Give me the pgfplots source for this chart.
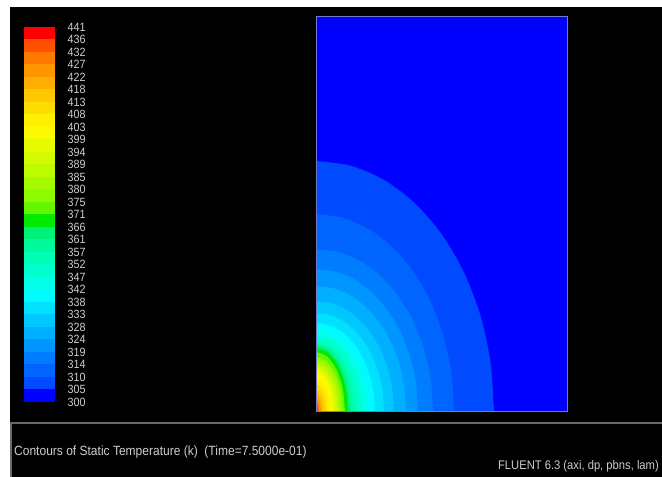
\documentclass[border=0pt]{standalone}
\usepackage{pgfplots}
\pgfplotsset{compat=1.18}
\usepackage{fontspec}
\setmainfont{Liberation Sans}
\newfontfamily\narrow[FakeStretch=0.9]{Liberation Sans}
\definecolor{c0}{RGB}{0,0,255}
\definecolor{c1}{RGB}{0,75,255}
\definecolor{c2}{RGB}{0,100,255}
\definecolor{c3}{RGB}{0,125,255}
\definecolor{c4}{RGB}{0,150,255}
\definecolor{c5}{RGB}{0,175,255}
\definecolor{c6}{RGB}{0,200,255}
\definecolor{c7}{RGB}{0,225,255}
\definecolor{c8}{RGB}{0,250,255}
\definecolor{c9}{RGB}{0,255,230}
\definecolor{c10}{RGB}{0,255,205}
\definecolor{c11}{RGB}{0,255,180}
\definecolor{c12}{RGB}{0,250,155}
\definecolor{c13}{RGB}{0,240,120}
\definecolor{c14}{RGB}{0,235,0}
\definecolor{c15}{RGB}{100,245,0}
\definecolor{c16}{RGB}{140,250,0}
\definecolor{c17}{RGB}{165,250,0}
\definecolor{c18}{RGB}{190,250,0}
\definecolor{c19}{RGB}{210,250,0}
\definecolor{c20}{RGB}{230,250,0}
\definecolor{c21}{RGB}{250,250,0}
\definecolor{c22}{RGB}{255,240,0}
\definecolor{c23}{RGB}{255,220,0}
\definecolor{c24}{RGB}{255,200,0}
\definecolor{c25}{RGB}{255,175,0}
\definecolor{c26}{RGB}{255,150,0}
\definecolor{c27}{RGB}{255,120,0}
\definecolor{c28}{RGB}{255,80,0}
\definecolor{c29}{RGB}{255,0,0}
\definecolor{lbl}{RGB}{205,205,205}
\definecolor{frm}{RGB}{105,105,105}
\definecolor{dfrm}{RGB}{120,120,200}
\begin{document}
\begin{tikzpicture}[x=1bp,y=1bp]
\useasboundingbox (0,0) rectangle (662,477);
\fill[white] (0,0) rectangle (662,477);
\fill[black] (10,0) rectangle (662,470);
\draw[frm, line width=2bp] (662,54) -- (11,54) -- (11,0);
\node[anchor=west, text=lbl, inner sep=0pt, font=\narrow\fontsize{13.4}{15}\selectfont] at (14,25) {Contours of Static Temperature (k)\ \ (Time=7.5000e-01)};
\node[anchor=east, text=lbl, inner sep=0pt, font=\narrow\fontsize{12.5}{14}\selectfont] at (659,11) {FLUENT 6.3 (axi, dp, pbns, lam)};

% colour bar
\begin{axis}[at={(24bp,75bp)}, anchor=south west, scale only axis,
  width=31bp, height=375bp, xmin=0, xmax=1, ymin=0, ymax=30,
  axis line style={draw=none}, xtick=\empty,
  ytick={0,1,2,3,4,5,6,7,8,9,10,11,12,13,14,15,16,17,18,19,20,21,22,23,24,25,26,27,28,29,30},
  yticklabels={300,305,310,314,319,324,328,333,338,342,347,352,357,361,366,371,375,380,385,389,394,399,403,408,413,418,422,427,432,436,441},
  yticklabel pos=right, major tick length=0pt,
  yticklabel style={font=\narrow\fontsize{12}{12}\selectfont, text=lbl, anchor=west, inner sep=0pt, xshift=12.5bp}]
\addplot[fill=c0,draw=none] coordinates {(0,0) (1,0) (1,1) (0,1)} -- cycle;
\addplot[fill=c1,draw=none] coordinates {(0,1) (1,1) (1,2) (0,2)} -- cycle;
\addplot[fill=c2,draw=none] coordinates {(0,2) (1,2) (1,3) (0,3)} -- cycle;
\addplot[fill=c3,draw=none] coordinates {(0,3) (1,3) (1,4) (0,4)} -- cycle;
\addplot[fill=c4,draw=none] coordinates {(0,4) (1,4) (1,5) (0,5)} -- cycle;
\addplot[fill=c5,draw=none] coordinates {(0,5) (1,5) (1,6) (0,6)} -- cycle;
\addplot[fill=c6,draw=none] coordinates {(0,6) (1,6) (1,7) (0,7)} -- cycle;
\addplot[fill=c7,draw=none] coordinates {(0,7) (1,7) (1,8) (0,8)} -- cycle;
\addplot[fill=c8,draw=none] coordinates {(0,8) (1,8) (1,9) (0,9)} -- cycle;
\addplot[fill=c9,draw=none] coordinates {(0,9) (1,9) (1,10) (0,10)} -- cycle;
\addplot[fill=c10,draw=none] coordinates {(0,10) (1,10) (1,11) (0,11)} -- cycle;
\addplot[fill=c11,draw=none] coordinates {(0,11) (1,11) (1,12) (0,12)} -- cycle;
\addplot[fill=c12,draw=none] coordinates {(0,12) (1,12) (1,13) (0,13)} -- cycle;
\addplot[fill=c13,draw=none] coordinates {(0,13) (1,13) (1,14) (0,14)} -- cycle;
\addplot[fill=c14,draw=none] coordinates {(0,14) (1,14) (1,15) (0,15)} -- cycle;
\addplot[fill=c15,draw=none] coordinates {(0,15) (1,15) (1,16) (0,16)} -- cycle;
\addplot[fill=c16,draw=none] coordinates {(0,16) (1,16) (1,17) (0,17)} -- cycle;
\addplot[fill=c17,draw=none] coordinates {(0,17) (1,17) (1,18) (0,18)} -- cycle;
\addplot[fill=c18,draw=none] coordinates {(0,18) (1,18) (1,19) (0,19)} -- cycle;
\addplot[fill=c19,draw=none] coordinates {(0,19) (1,19) (1,20) (0,20)} -- cycle;
\addplot[fill=c20,draw=none] coordinates {(0,20) (1,20) (1,21) (0,21)} -- cycle;
\addplot[fill=c21,draw=none] coordinates {(0,21) (1,21) (1,22) (0,22)} -- cycle;
\addplot[fill=c22,draw=none] coordinates {(0,22) (1,22) (1,23) (0,23)} -- cycle;
\addplot[fill=c23,draw=none] coordinates {(0,23) (1,23) (1,24) (0,24)} -- cycle;
\addplot[fill=c24,draw=none] coordinates {(0,24) (1,24) (1,25) (0,25)} -- cycle;
\addplot[fill=c25,draw=none] coordinates {(0,25) (1,25) (1,26) (0,26)} -- cycle;
\addplot[fill=c26,draw=none] coordinates {(0,26) (1,26) (1,27) (0,27)} -- cycle;
\addplot[fill=c27,draw=none] coordinates {(0,27) (1,27) (1,28) (0,28)} -- cycle;
\addplot[fill=c28,draw=none] coordinates {(0,28) (1,28) (1,29) (0,29)} -- cycle;
\addplot[fill=c29,draw=none] coordinates {(0,29) (1,29) (1,30) (0,30)} -- cycle;
\end{axis}

% temperature field
\begin{axis}[at={(316bp,65bp)}, anchor=south west, scale only axis,
  width=251bp, height=395bp, xmin=0, xmax=251, ymin=0, ymax=395,
  xtick=\empty, ytick=\empty, axis on top,
  axis background/.style={fill=c0},
  axis line style={draw=dfrm, line width=1bp}]
\addplot[fill=c1,draw=none,smooth] coordinates {(178,0) (174.6,49.0) (164.5,96.1) (147.9,139.6) (125.8,177.5) (99.0,208.6) (68.2,231.9) (34.7,246.2) (0,251)} \closedcycle;
\addplot[fill=c2,draw=none,smooth] coordinates {(138,0) (135.4,38.6) (127.5,75.8) (114.7,110.1) (97.6,140.0) (76.7,164.5) (52.9,182.9) (26.9,194.2) (0,198)} \closedcycle;
\addplot[fill=c3,draw=none,smooth] coordinates {(117,0) (114.8,31.8) (108.1,62.4) (97.2,90.6) (82.7,115.2) (65.1,135.5) (44.8,150.6) (22.8,159.9) (0,163)} \closedcycle;
\addplot[fill=c4,draw=none,smooth] coordinates {(102,0) (100.1,27.9) (94.2,54.8) (84.8,79.5) (72.1,101.1) (56.7,118.8) (39.1,132.1) (19.9,140.3) (0,143)} \closedcycle;
\addplot[fill=c5,draw=none,smooth] coordinates {(90,0) (88.3,24.6) (83.2,48.3) (74.8,70.1) (63.6,89.1) (50.0,104.7) (34.5,116.4) (17.6,123.6) (0,126)} \closedcycle;
\addplot[fill=c6,draw=none,smooth] coordinates {(78,0) (76.5,21.6) (72.1,42.5) (64.8,61.7) (55.1,78.5) (43.4,92.2) (29.9,102.6) (15.2,108.9) (0,111)} \closedcycle;
\addplot[fill=c7,draw=none,smooth] coordinates {(68,0) (66.7,19.3) (62.8,37.9) (56.5,55.0) (48.1,70.0) (37.8,82.3) (26.0,91.5) (13.3,97.1) (0,99)} \closedcycle;
\addplot[fill=c8,draw=none,smooth] coordinates {(59,0) (57.9,17.4) (54.5,34.1) (49.0,49.5) (41.7,62.9) (32.8,74.0) (22.6,82.2) (11.5,87.3) (0,89)} \closedcycle;
\addplot[fill=c9,draw=none,smooth] coordinates {(52,0) (51.0,15.8) (48.0,31.0) (43.2,45.0) (36.8,57.3) (28.9,67.3) (19.9,74.8) (10.1,79.5) (0,81)} \closedcycle;
\addplot[fill=c10,draw=none,smooth] coordinates {(46,0) (45.1,14.6) (42.5,28.7) (38.2,41.7) (32.5,53.0) (25.6,62.3) (17.6,69.3) (9.0,73.6) (0,75)} \closedcycle;
\addplot[fill=c11,draw=none,smooth] coordinates {(41,0) (40.2,13.8) (37.9,27.2) (34.1,39.5) (29.0,50.2) (22.8,59.0) (15.7,65.6) (8.0,69.7) (0,71)} \closedcycle;
\addplot[fill=c12,draw=none,smooth] coordinates {(37,0) (36.3,13.3) (34.2,26.0) (30.7,37.8) (26.2,48.1) (20.6,56.5) (14.2,62.8) (7.2,66.7) (0,68)} \closedcycle;
\addplot[fill=c13,draw=none,smooth] coordinates {(34,0) (31.4,25.3) (24,46.7) (13,61) (0,66)} \closedcycle;
\addplot[fill=c14,draw=none,smooth] coordinates {(32,0) (29.6,24.5) (22.6,45.2) (12.3,59.1) (0,64)} \closedcycle;
\addplot[fill=c15,draw=none,smooth] coordinates {(29,0) (26.8,23) (20.5,42.4) (11.1,55.4) (0,60)} \closedcycle;
\addplot[fill=c16,draw=none,smooth] coordinates {(27,0) (24.9,21.1) (19.1,38.9) (10.3,50.8) (0,55)} \closedcycle;
\addplot[fill=c17,draw=none,smooth] coordinates {(25,0) (23.1,19.9) (17.7,36.8) (9.6,48) (0,52)} \closedcycle;
\addplot[fill=c18,draw=none,smooth] coordinates {(23,0) (21.3,18.8) (16.3,34.6) (8.8,45.3) (0,49)} \closedcycle;
\addplot[fill=c19,draw=none,smooth] coordinates {(21,0) (19.4,17.6) (14.8,32.5) (8,42.5) (0,46)} \closedcycle;
\addplot[fill=c20,draw=none,smooth] coordinates {(19,0) (17.6,16.5) (13.4,30.4) (7.3,39.7) (0,43)} \closedcycle;
\addplot[fill=c21,draw=none,smooth] coordinates {(17,0) (15.7,15.3) (12,28.3) (6.5,37) (0,40)} \closedcycle;
\addplot[fill=c22,draw=none,smooth] coordinates {(14,0) (12.9,13) (9.9,24) (5.4,31.4) (0,34)} \closedcycle;
\addplot[fill=c23,draw=none,smooth] coordinates {(11,0) (10.2,10.7) (7.8,19.8) (4.2,25.9) (0,28)} \closedcycle;
\addplot[fill=c24,draw=none,smooth] coordinates {(8.5,0) (7.9,8.8) (6,16.3) (3.3,21.3) (0,23)} \closedcycle;
\addplot[fill=c25,draw=none,smooth] coordinates {(6.5,0) (6,7.3) (4.6,13.4) (2.5,17.6) (0,19)} \closedcycle;
\addplot[fill=c26,draw=none,smooth] coordinates {(5,0) (4.6,5.7) (3.5,10.6) (1.9,13.9) (0,15)} \closedcycle;
\addplot[fill=c27,draw=none,smooth] coordinates {(3.5,0) (3.2,4.2) (2.5,7.8) (1.3,10.2) (0,11)} \closedcycle;
\addplot[fill=c28,draw=none,smooth] coordinates {(2.5,0) (2.3,2.9) (1.8,5.3) (1,6.9) (0,7.5)} \closedcycle;
\addplot[fill=c29,draw=none,smooth] coordinates {(1.5,0) (1.4,1.5) (1.1,2.8) (0.6,3.7) (0,4)} \closedcycle;
\end{axis}
\end{tikzpicture}
\end{document}
